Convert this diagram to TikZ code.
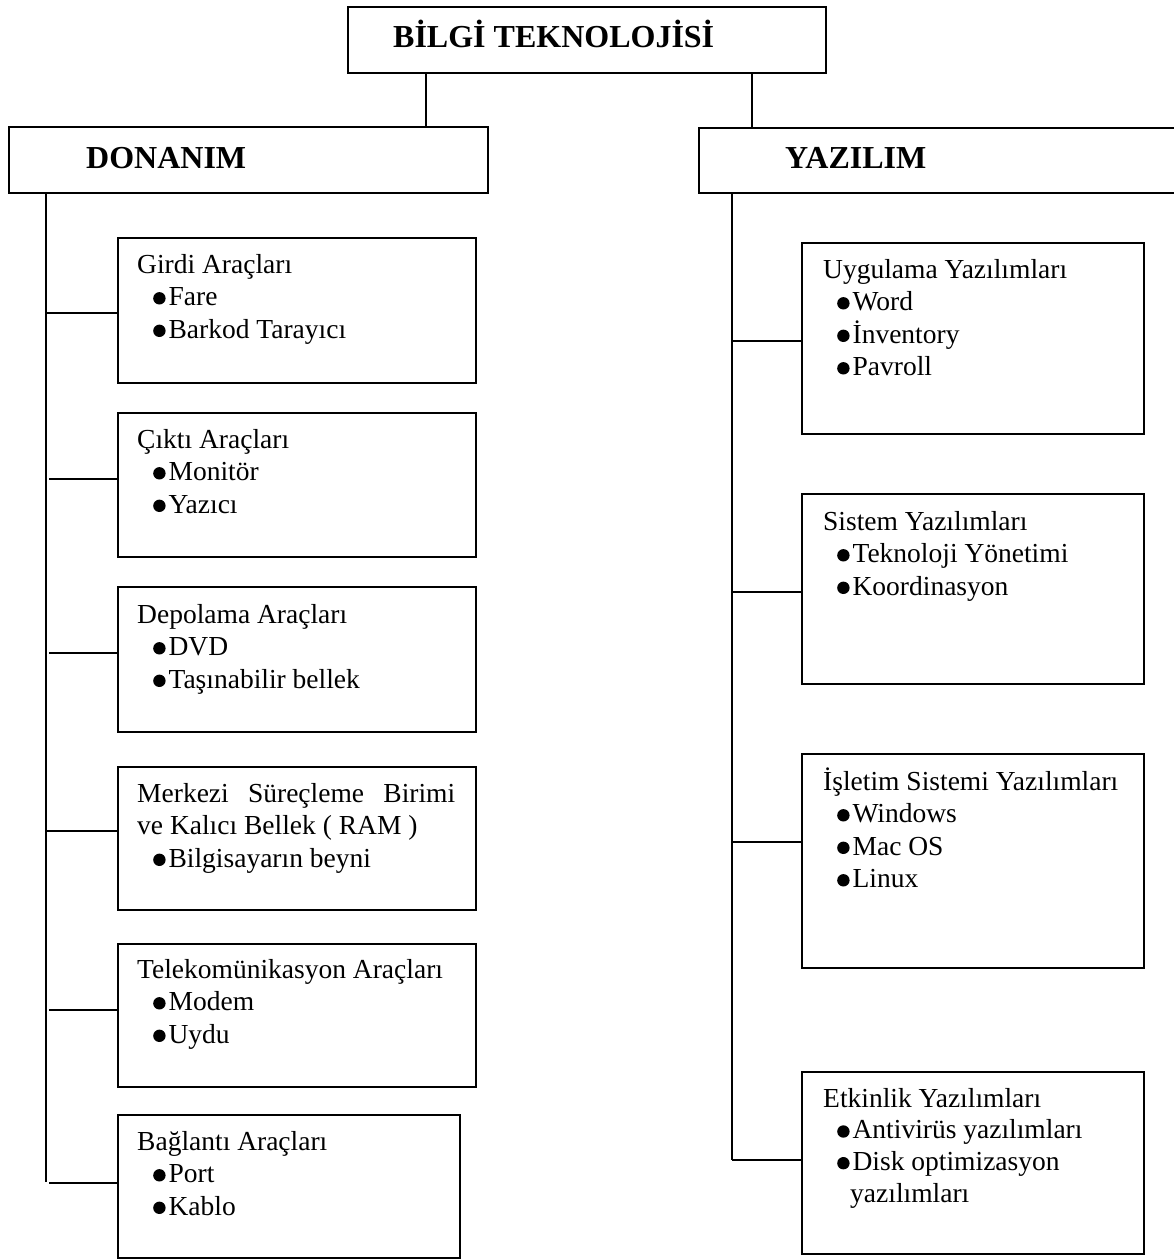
\documentclass[tikz,border=0pt]{standalone}
\usepackage{fontspec}
\setmainfont{Liberation Serif}

% round bullet drawn as a small filled disc sitting on the baseline
\newcommand{\bultdot}{\tikz[baseline=0pt]\fill (6.2pt,7.2pt) circle[radius=6.2pt];}
% one bulleted line: indent, bullet, small gap, text
\newcommand{\bullitem}[2]{\hbox{\kern#1\bultdot\kern3pt #2}}
% stack of lines whose first baseline is the box baseline
\newcommand{\textstack}[1]{\vtop{\baselineskip=32.5pt\lineskiplimit=-20pt\lineskip=0pt #1}}

\tikzset{
  box/.style={draw, line width=1.6pt, rectangle, inner sep=0pt, anchor=north west},
  lbl/.style={anchor=base west, inner sep=0pt, font=\fontsize{27.5}{32.5}\selectfont},
  head/.style={anchor=base west, inner sep=0pt, font=\bfseries\fontsize{32}{38}\selectfont},
  link/.style={line width=1.6pt}
}

\begin{document}
\begin{tikzpicture}[x=1pt,y=-1pt]
\useasboundingbox (0,0) rectangle (1174,1259);
\clip (0,0) rectangle (1174,1259);

% ---- top level ----
\node[box, minimum width=478pt, minimum height=66pt] (top) at (347,6) {};
\node[head] (toptxt) at (393,47) {BİLGİ TEKNOLOJİSİ};

\node[box, minimum width=479pt, minimum height=66pt] (don) at (8,126) {};
\node[head] (dontxt) at (86,168) {DONANIM};

\node[box, minimum width=478pt, minimum height=65pt] (yaz) at (698,127) {};
\node[head] (yaztxt) at (785,168) {YAZILIM};

\coordinate (tl) at (426,0);
\coordinate (tr) at (752,0);
\draw[link] (top.south -| tl) -- (don.north -| tl);
\draw[link] (top.south -| tr) -- (yaz.north -| tr);

% ---- hardware column ----
\node[box, minimum width=358pt, minimum height=145pt] (l1) at (117,237) {};
\node[box, minimum width=358pt, minimum height=144pt] (l2) at (117,412) {};
\node[box, minimum width=358pt, minimum height=145pt] (l3) at (117,586) {};
\node[box, minimum width=358pt, minimum height=143pt] (l4) at (117,766) {};
\node[box, minimum width=358pt, minimum height=143pt] (l5) at (117,943) {};
\node[box, minimum width=342pt, minimum height=143pt] (l6) at (117,1114) {};

\node[lbl] (l1txt) at (137,273) {\textstack{\hbox{Girdi Araçları}
  \bullitem{16pt}{Fare}\bullitem{16pt}{Barkod Tarayıcı}}};
\node[lbl] (l2txt) at (137,448) {\textstack{\hbox{Çıktı Araçları}
  \bullitem{16pt}{Monitör}\bullitem{16pt}{Yazıcı}}};
\node[lbl] (l3txt) at (137,623) {\textstack{\hbox{Depolama Araçları}
  \bullitem{16pt}{DVD}\bullitem{16pt}{Taşınabilir bellek}}};
\node[lbl] (l4txt) at (137,802) {\textstack{\hbox to 318pt{Merkezi\hfill Süreçleme\hfill Birimi}
  \hbox{ve Kalıcı Bellek ( RAM )}\bullitem{16pt}{Bilgisayarın beyni}}};
\node[lbl] (l5txt) at (137,978) {\textstack{\hbox{Telekomünikasyon Araçları}
  \bullitem{16pt}{Modem}\bullitem{16pt}{Uydu}}};
\node[lbl] (l6txt) at (137,1150) {\textstack{\hbox{Bağlantı Araçları}
  \bullitem{16pt}{Port}\bullitem{16pt}{Kablo}}};

\coordinate (lt) at (46,1182);
\draw[link] (don.south -| lt) -- (lt);
\coordinate (lc1) at (46,313);
\coordinate (lc2) at (49,479);
\coordinate (lc3) at (49,653);
\coordinate (lc4) at (46,831);
\coordinate (lc5) at (49,1010);
\coordinate (lc6) at (49,1183);
\draw[link] (lc1) -- (lc1 -| l1.west);
\draw[link] (lc2) -- (lc2 -| l2.west);
\draw[link] (lc3) -- (lc3 -| l3.west);
\draw[link] (lc4) -- (lc4 -| l4.west);
\draw[link] (lc5) -- (lc5 -| l5.west);
\draw[link] (lc6) -- (lc6 -| l6.west);

% ---- software column ----
\node[box, minimum width=342pt, minimum height=191pt] (r1) at (801,242) {};
\node[box, minimum width=342pt, minimum height=190pt] (r2) at (801,493) {};
\node[box, minimum width=342pt, minimum height=214pt] (r3) at (801,753) {};
\node[box, minimum width=342pt, minimum height=182pt] (r4) at (801,1071) {};

\node[lbl] (r1txt) at (823,278) {\textstack{\hbox{Uygulama Yazılımları}
  \bullitem{14pt}{Word}\bullitem{14pt}{İnventory}\bullitem{14pt}{Pavroll}}};
\node[lbl] (r2txt) at (823,530) {\textstack{\hbox{Sistem Yazılımları}
  \bullitem{14pt}{Teknoloji Yönetimi}\bullitem{14pt}{Koordinasyon}}};
\node[lbl] (r3txt) at (823,790) {\textstack{\hbox{İşletim Sistemi Yazılımları}
  \bullitem{14pt}{Windows}\bullitem{14pt}{Mac OS}\bullitem{14pt}{Linux}}};
\node[lbl] (r4txt) at (823,1107) {\textstack{\baselineskip=31.7pt\hbox{Etkinlik Yazılımları}
  \bullitem{14pt}{Antivirüs yazılımları}\bullitem{14pt}{Disk optimizasyon}
  \hbox{\kern27pt yazılımları}}};

\coordinate (rt) at (732,1160);
\draw[link] (yaz.south -| rt) -- (rt);
\coordinate (rc1) at (732,341);
\coordinate (rc2) at (732,592);
\coordinate (rc3) at (732,842);
\draw[link] (rc1) -- (rc1 -| r1.west);
\draw[link] (rc2) -- (rc2 -| r2.west);
\draw[link] (rc3) -- (rc3 -| r3.west);
\draw[link] (rt) -- (rt -| r4.west);
\end{tikzpicture}
\end{document}
